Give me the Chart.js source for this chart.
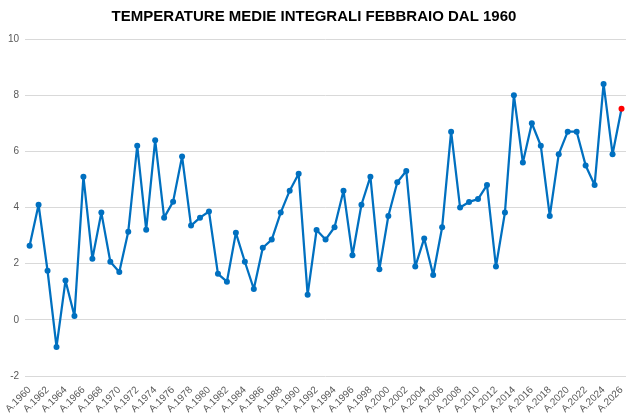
<!DOCTYPE html>
<html>
<head>
<meta charset="utf-8">
<script src="https://cdn.jsdelivr.net/npm/chart.js@4/dist/chart.umd.min.js"></script>
<style>
  html, body { margin: 0; padding: 0; background: #fff; }
  #wrap { width: 640px; height: 418px; }
</style>
</head>
<body>
<div id="wrap"><canvas id="chart"></canvas></div>
<script>
// anni 1960 - 2026
const years = [];
for (let y = 1960; y <= 2026; y++) years.push('A.' + y);

const temps = [
    2.64, 4.1, 1.75, -0.96, 1.4, 0.14, 5.1, 2.18, 3.82, 2.07,
    1.71, 3.14, 6.2, 3.21, 6.4, 3.64, 4.21, 5.82, 3.36, 3.64,
    3.86, 1.64, 1.36, 3.1, 2.07, 1.1, 2.57, 2.86, 3.82, 4.6,
    5.2, 0.9, 3.2, 2.86, 3.3, 4.6, 2.3, 4.1, 5.1, 1.8,
    3.7, 4.9, 5.3, 1.9, 2.9, 1.6, 3.3, 6.7, 4.0, 4.2,
    4.3, 4.8, 1.9, 3.82, 8.0, 5.6, 7.0, 6.2, 3.7, 5.9,
    6.7, 6.7, 5.5, 4.8, 8.4, 5.9, 7.52
];

const yTicks = [-2, 0, 2, 4, 6, 8, 10];

const blue = '#0070C0';
const pointColors = temps.map((v, i) => i === temps.length - 1 ? '#FF0000' : blue);

new Chart(document.getElementById('chart'), {
    type: 'line',
    data: {
        labels: years,
        datasets: [{
            data: temps,
            borderColor: blue,
            borderWidth: 2.25,
            borderJoinStyle: 'round',
            borderCapStyle: 'round',
            pointBackgroundColor: pointColors,
            pointBorderColor: pointColors,
            pointRadius: 3,
            pointBorderWidth: 0,
            tension: 0
        }]
    },
    options: {
        responsive: true,
        maintainAspectRatio: false,
        animation: false,
        layout: { padding: { left: 2, right: 14, top: 0, bottom: 3 } },
        plugins: {
            legend: { display: false },
            tooltip: { enabled: false },
            title: {
                display: true,
                text: 'TEMPERATURE MEDIE INTEGRALI FEBBRAIO DAL 1960',
                color: '#000',
                font: { family: 'Liberation Sans, Arial, sans-serif', size: 15, weight: 'bold' },
                padding: { top: 8, bottom: 13 }
            }
        },
        scales: {
            x: {
                offset: true,
                grid: { display: false },
                border: { display: false },
                ticks: {
                    autoSkip: false,
                    maxRotation: 45,
                    minRotation: 45,
                    color: '#595959',
                    padding: 0,
                    font: { family: 'Liberation Sans, Arial, sans-serif', size: 10 },
                    callback: function (v, i) { return i % 2 === 0 ? this.getLabelForValue(v) : ''; }
                }
            },
            y: {
                min: yTicks[0],
                max: yTicks[yTicks.length - 1],
                afterBuildTicks: axis => { axis.ticks = yTicks.map(v => ({ value: v })); },
                grid: { color: '#D9D9D9', lineWidth: 1, drawTicks: false },
                border: { display: false },
                ticks: {
                    color: '#595959',
                    padding: 6,
                    font: { family: 'Liberation Sans, Arial, sans-serif', size: 10 }
                }
            }
        }
    }
});
</script>
</body>
</html>
